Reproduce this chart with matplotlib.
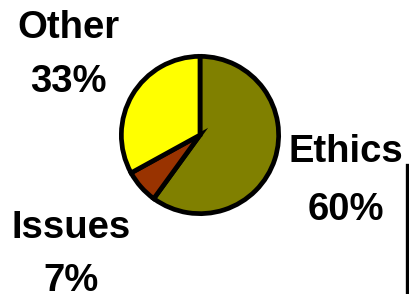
import matplotlib
matplotlib.use("Agg")
import matplotlib.pyplot as plt
from matplotlib.lines import Line2D

# slice data, clockwise from 12 o'clock
labels = ["Ethics", "Issues", "Other"]
shares = [60, 7, 33]
colors = ["#808000", "#993300", "#FFFF00"]

# label baselines in figure pixels (x centre, name baseline, pct baseline)
label_pos = {"Ethics": (346, 162, 220), "Issues": (71, 238, 291), "Other": (68, 38, 92)}

W, H = 409, 294
fig = plt.figure(figsize=(W / 100, H / 100), dpi=100)
plt.rcParams['font.family'] = ['Liberation Sans', 'DejaVu Sans']

cx, cy, r = 200, 135, 81
ax = fig.add_axes([(cx - r) / W, (H - cy - r) / H, 2 * r / W, 2 * r / H])
ax.pie(shares, colors=colors, startangle=90, counterclock=False,
       wedgeprops=dict(edgecolor="black", linewidth=3.4, joinstyle="miter"))
ax.set_xlim(-1.03, 1.03)
ax.set_ylim(-1.03, 1.03)
ax.axis("off")

for name, val in zip(labels, shares):
    x, y1, y2 = label_pos[name]
    fig.text(x / W, 1 - y1 / H, name, ha="center", va="baseline",
             fontsize=27.5, fontweight="bold")
    fig.text(x / W, 1 - y2 / H, f"{val}%", ha="center", va="baseline",
             fontsize=27.5, fontweight="bold")

fig.add_artist(Line2D([406.5 / W, 406.5 / W], [0, 1 - 165 / H],
                      color="black", linewidth=2.4, transform=fig.transFigure))

fig.savefig("out.png", dpi=100)
